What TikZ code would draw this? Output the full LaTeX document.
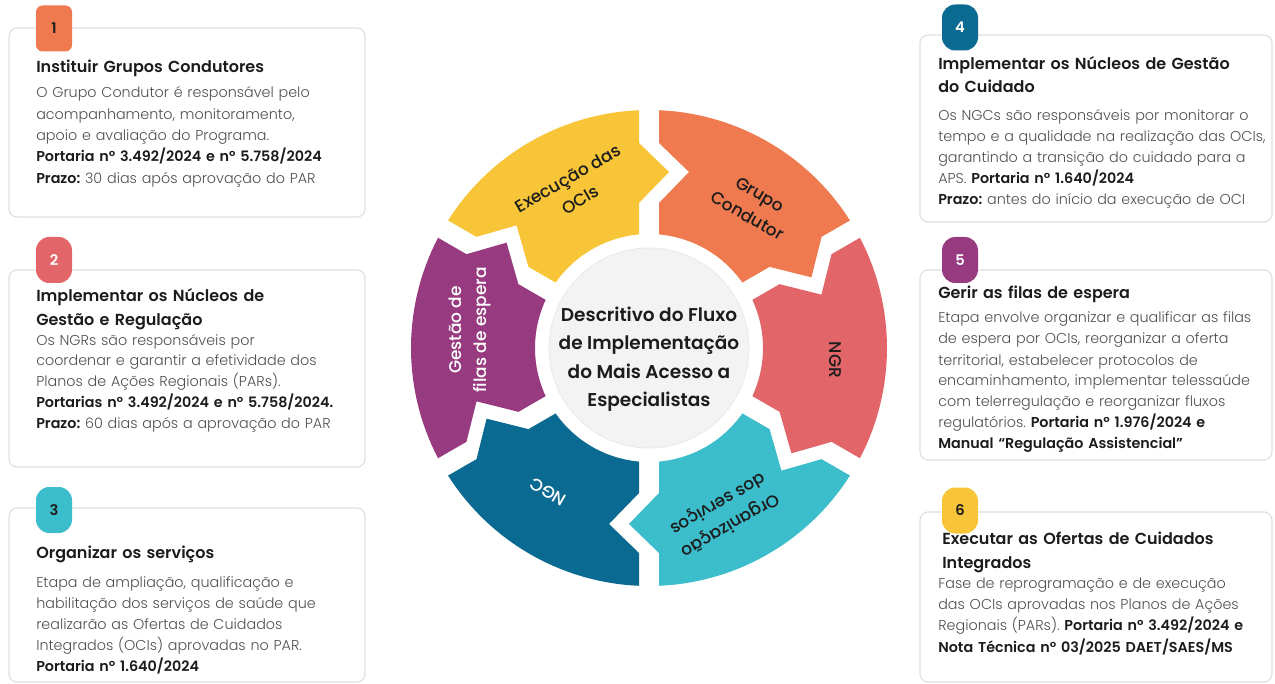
\documentclass[tikz,border=0pt]{standalone}
\usepackage{fontspec}
\setmainfont{Poppins}
\IfFontExistsTF{Poppins SemiBold}{\newfontfamily\semib{Poppins SemiBold}}{\newcommand\semib{\bfseries}}
\IfFontExistsTF{Poppins Medium}{\newfontfamily\medf{Poppins Medium}}{\newcommand\medf{\relax}}
\IfFontExistsTF{Poppins Light}{\newfontfamily\lightf{Poppins Light}}{\newcommand\lightf{\relax}}
\usetikzlibrary{calc}
\frenchspacing
\definecolor{cOrange}{HTML}{F07A4F}
\definecolor{cRed}{HTML}{E26669}
\definecolor{cTeal}{HTML}{3BBDCB}
\definecolor{cBlue}{HTML}{0B6A91}
\definecolor{cPurple}{HTML}{983A80}
\definecolor{cYellow}{HTML}{F7C537}
\definecolor{cBorder}{HTML}{E0E0E0}
\definecolor{cBody}{HTML}{505050}
\definecolor{cDark}{HTML}{1C1C1C}
\definecolor{cCenter}{HTML}{F3F3F3}
\newcommand\bpart[1]{{\semib\color{cDark}#1}}
\def\dO{2.41}
\def\dI{5.03}
\def\Ro{238}
\def\Ri{114}
% #1 colour, #2 ccw end angle, #3 cw end angle (arrow tip)
\newcommand\ringseg[3]{%
  \fill[#1] ($(C)+({#2-\dO}:\Ro)$) arc[start angle={#2-\dO}, end angle={#3+\dO}, radius=\Ro]
   -- ($(C)+(#3:205)+({#3+90}:10)$)
   -- ($(C)+(#3:176)+({#3-90}:20)$)
   -- ($(C)+(#3:145)+({#3+90}:10)$)
   -- ($(C)+({#3+\dI}:\Ri)$) arc[start angle={#3+\dI}, end angle={#2-\dI}, radius=\Ri]
   -- ($(C)+(#2:145)+({#2-90}:10)$)
   -- ($(C)+(#2:176)+({#2-90}:40)$)
   -- ($(C)+(#2:205)+({#2-90}:10)$)
   -- cycle;}
\tikzset{
  card/.style={draw=cBorder, line width=0.9pt, rounded corners=6pt, fill=white},
  badge/.style={rounded corners=10pt, minimum width=27pt, minimum height=34.5pt, inner sep=0pt,
    font=\semib\fontsize{11pt}{13pt}\selectfont},
  ctitle/.style={anchor=base west, inner sep=0pt, text width=255pt, align=left, text=cDark,
    font=\semib\fontsize{12pt}{#1}\selectfont},
  cbody/.style={anchor=base west, inner sep=0pt, text width=262pt, align=left, text=cBody,
    font=\lightf\fontsize{10.75pt}{#1}\selectfont},
  ringlabel/.style={align=center, inner sep=0pt, font=\medf\fontsize{12.75pt}{18.75pt}\selectfont},
}
\begin{document}
\begin{tikzpicture}[x=0.75pt, y=0.75pt]
\fill[white] (0,0) rectangle (1275,683);
\useasboundingbox (0,0) rectangle (1275,683);
\coordinate (C) at (649,335);

% ring
\ringseg{cOrange}{90}{30}
\ringseg{cRed}{30}{-30}
\ringseg{cTeal}{-30}{-90}
\ringseg{cBlue}{-90}{-150}
\ringseg{cPurple}{-150}{-210}
\ringseg{cYellow}{150}{90}
\fill[cCenter] (C) circle[radius=100];
\draw[cBorder!70, line width=0.6pt] (C) circle[radius=100];

\node[align=center, inner sep=0pt, text=cDark, font=\semib\fontsize{13.9pt}{21.3pt}\selectfont] (center) at (649,324)
  {Descritivo do Fluxo\\de Implementação\\do Mais Acesso a\\Especialistas};

\node[ringlabel, rotate=30, text=cDark] (lexe) at (574,494) {Execução das\\OCIs};
\node[ringlabel, rotate=-30, text=cDark] (lgc) at (754,478) {Grupo\\Condutor};
\node[ringlabel, rotate=-90, text=cDark] (lngr) at (835,323) {NGR};
\node[ringlabel, rotate=-150, text=cDark] (lorg) at (724,169) {Organização\\dos serviços};
\node[ringlabel, rotate=150, text=white] (lngc) at (548,191) {NGC};
\node[ringlabel, rotate=90, text=white] (lfil) at (470,353) {Gestão de\\filas de espera};

% cards left
\draw[card] (9,466) rectangle (365,655);
\node[badge, fill=cOrange, rounded corners=5pt, text=cDark] (b1) at (54,654.5) {1};
\node[ctitle=17.6pt] (t1) at (36,610) {Instituir Grupos Condutores};
\node[cbody=16pt] (d1) at (36,585) {O Grupo Condutor é responsável pelo\\
acompanhamento, monitoramento,\\
apoio e avaliação do Programa.\\
\bpart{Portaria nº 3.492/2024 e nº 5.758/2024}\\
\bpart{Prazo:} 30 dias após aprovação do PAR};

\draw[card] (9,216) rectangle (365,413);
\node[badge, fill=cRed, text=white] (b2) at (54,423) {2};
\node[ctitle=17.6pt] (t2) at (36,381) {Implementar os Núcleos de\\Gestão e Regulação};
\node[cbody=15.6pt] (d2) at (36,338) {Os NGRs são responsáveis por\\
coordenar e garantir a efetividade dos\\
Planos de Ações Regionais (PARs).\\
\bpart{Portarias nº 3.492/2024 e nº 5.758/2024.}\\
\bpart{Prazo:} 60 dias após a aprovação do PAR};

\draw[card] (9,1) rectangle (365,175);
\node[badge, fill=cTeal, text=cDark] (b3) at (54,173) {3};
\node[ctitle=17.6pt] (t3) at (36,125) {Organizar os serviços};
\node[cbody=15.9pt] (d3) at (36,96) {Etapa de ampliação, qualificação e\\
habilitação dos serviços de saúde que\\
realizarão as Ofertas de Cuidados\\
Integrados (OCIs) aprovadas no PAR.\\
\bpart{Portaria nº 1.640/2024}};

% cards right
\draw[card] (920,461) rectangle (1272,648);
\node[badge, fill=cBlue, text=white] (b4) at (960,655.5) {4};
\node[ctitle=17.25pt] (t4) at (938,613) {Implementar os Núcleos de Gestão\\do Cuidado};
\node[cbody=15.75pt] (d4) at (938,562) {Os NGCs são responsáveis por monitorar o\\
tempo e a qualidade na realização das OCIs,\\
garantindo a transição do cuidado para a\\
APS. \bpart{Portaria nº 1.640/2024}\\
\bpart{Prazo:} antes do início da execução de OCI};

\draw[card] (920,223) rectangle (1272,413);
\node[badge, fill=cPurple, text=white] (b5) at (960,423) {5};
\node[ctitle=17.25pt] (t5) at (938,384) {Gerir as filas de espera};
\node[cbody=15.75pt] (d5) at (938,360) {Etapa envolve organizar e qualificar as filas\\
de espera por OCIs, reorganizar a oferta\\
territorial, estabelecer protocolos de\\
encaminhamento, implementar telessaúde\\
com telerregulação e reorganizar fluxos\\
regulatórios. \bpart{Portaria nº 1.976/2024 e}\\
\bpart{Manual “Regulação Assistencial”}};

\draw[card] (920,1) rectangle (1272,171);
\node[badge, fill=cYellow, text=cDark] (b6) at (960,172.5) {6};
\node[ctitle=18pt] (t6) at (942,139) {Executar as Ofertas de Cuidados\\Integrados};
\node[cbody=16pt] (d6) at (938,95) {Fase de reprogramação e de execução\\
das OCIs aprovadas nos Planos de Ações\\
Regionais (PARs). \bpart{Portaria nº 3.492/2024 e}\\
\bpart{Nota Técnica nº 03/2025 DAET/SAES/MS}};
\end{tikzpicture}
\end{document}
